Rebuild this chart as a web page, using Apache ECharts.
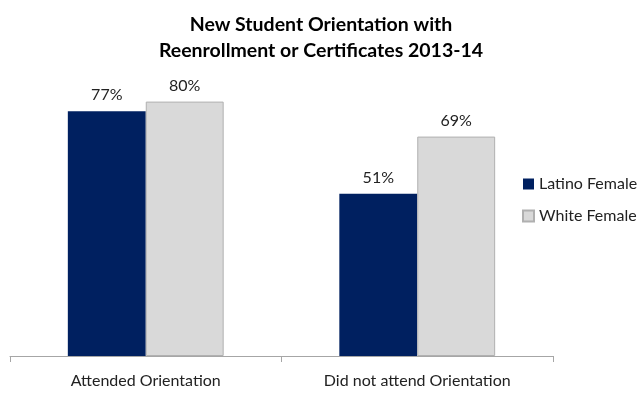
<!DOCTYPE html>
<html>
<head>
<meta charset="utf-8">
<script src="https://cdn.jsdelivr.net/npm/echarts@6/dist/echarts.min.js"></script>
<style>
  html, body { margin: 0; padding: 0; background: #fff; }
  #chart { width: 639px; height: 393px; }
</style>
</head>
<body>
<div id="chart"></div>
<script>
// Orientation attendance vs. reenrollment/certificate rates, 2013-14
const categories = ['Attended Orientation', 'Did not attend Orientation'];
const seriesNames = ['Latino Female', 'White Female'];
const latinoFemale = [77, 51];
const whiteFemale = [80, 69];

const font = 'Lato, "Open Sans", sans-serif';

const chart = echarts.init(document.getElementById('chart'));
chart.setOption({
  animation: false,
  backgroundColor: '#ffffff',
  title: {
    text: 'New Student Orientation with\nReenrollment or Certificates 2013-14',
    left: 316,
    textAlign: 'center',
    top: 7,
    textStyle: { fontFamily: font, fontWeight: 'bold', fontSize: 19.5, lineHeight: 26, color: '#000' }
  },
  legend: {
    orient: 'vertical',
    left: 517,
    top: 171,
    itemWidth: 11,
    itemHeight: 11,
    itemGap: 16,
    icon: 'rect',
    textStyle: { fontFamily: font, fontSize: 16, color: '#222' },
    data: seriesNames
  },
  grid: { left: 10, right: 86, top: 38, bottom: 37 },
  xAxis: {
    type: 'category',
    data: categories,
    axisLine: { lineStyle: { color: '#a6a6a6' } },
    axisTick: { show: true, length: 6, lineStyle: { color: '#a6a6a6' } },
    axisLabel: { fontFamily: font, fontSize: 16, color: '#222', margin: 17 }
  },
  yAxis: {
    type: 'value',
    min: 0,
    max: 100,
    show: false,
    splitLine: { show: false }
  },
  series: [
    {
      name: seriesNames[0],
      type: 'bar',
      data: latinoFemale,
      barGap: '0%',
      barCategoryGap: '42.6%',
      itemStyle: { color: '#002060' },
      label: {
        show: true, position: 'top', distance: 8,
        formatter: p => p.value + '%',
        fontFamily: font, fontSize: 16, color: '#222'
      }
    },
    {
      name: seriesNames[1],
      type: 'bar',
      data: whiteFemale,
      barGap: '0%',
      barCategoryGap: '42.6%',
      itemStyle: { color: '#d9d9d9', borderColor: '#b0b0b0', borderWidth: 1 },
      label: {
        show: true, position: 'top', distance: 8,
        formatter: p => p.value + '%',
        fontFamily: font, fontSize: 16, color: '#222'
      }
    }
  ]
});
</script>
</body>
</html>
